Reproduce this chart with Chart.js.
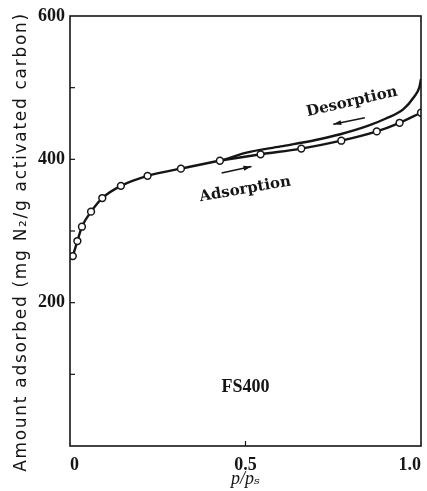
<!DOCTYPE html>
<html>
<head>
<meta charset="utf-8">
<script src="https://cdn.jsdelivr.net/npm/chart.js@4/dist/chart.umd.min.js"></script>
<style>
  html, body { margin: 0; padding: 0; background: #fff; }
  #wrap { width: 427px; height: 491px; position: relative; }
</style>
</head>
<body>
<div id="wrap"><canvas id="isotherm"></canvas></div>
<script>
// adsorption branch (open circles)
const adsPressure = [0.008, 0.021, 0.034, 0.06, 0.092, 0.145, 0.221, 0.316, 0.427, 0.543, 0.659, 0.773, 0.874, 0.939, 1.0];
const adsAmount = [265, 286, 306, 327, 346, 363, 377, 387, 398, 407, 415, 426, 439, 451, 465];

// desorption branch (plain line)
const desPressure = [0.43, 0.5, 0.6, 0.7, 0.77, 0.85, 0.9, 0.95, 0.98, 0.995, 1.0];
const desAmount = [398, 409, 418, 427, 435, 447, 457, 470, 487, 500, 512];

const xTickValues = [0, 0.5, 1.0];
const xTickLabels = ['0', '0.5', '1.0'];
const yLabelValues = [200, 400, 600];

const yTitle = 'Amount adsorbed (mg N\u2082/g activated carbon)';
const sampleName = 'FS400';

const ink = '#151515';
const serif = '"Liberation Serif", "DejaVu Serif", serif';

function toPoints(xs, ys) {
    return xs.map((x, i) => ({x: x, y: ys[i]}));
}

function arrow(ctx, x1, y1, x2, y2) {
    // line from (x1,y1) with head at (x2,y2)
    const a = Math.atan2(y2 - y1, x2 - x1);
    ctx.beginPath();
    ctx.moveTo(x1, y1);
    ctx.lineTo(x2, y2);
    ctx.stroke();
    ctx.beginPath();
    ctx.moveTo(x2, y2);
    ctx.lineTo(x2 - 8 * Math.cos(a) + 2.5 * Math.sin(a), y2 - 8 * Math.sin(a) - 2.5 * Math.cos(a));
    ctx.lineTo(x2 - 8 * Math.cos(a) - 2.5 * Math.sin(a), y2 - 8 * Math.sin(a) + 2.5 * Math.cos(a));
    ctx.closePath();
    ctx.fill();
}

function tiltedText(ctx, text, x, y, deg) {
    ctx.save();
    ctx.translate(x, y);
    ctx.rotate(deg * Math.PI / 180);
    ctx.fillText(text, 0, 0);
    ctx.restore();
}

const frameAndNotes = {
    id: 'frameAndNotes',
    afterDraw(chart) {
        const ctx = chart.ctx;
        const area = chart.chartArea;
        const xs = chart.scales.x;
        const ys = chart.scales.y;
        ctx.save();
        ctx.strokeStyle = ink;
        ctx.fillStyle = ink;

        // box round the plot
        ctx.lineWidth = 1.6;
        ctx.strokeRect(area.left, area.top, area.right - area.left, area.bottom - area.top);

        // inner ticks
        ctx.lineWidth = 1.2;
        ys.ticks.forEach(t => {
            const py = ys.getPixelForValue(t.value);
            if (t.value <= 0 || t.value >= 600) return;
            ctx.beginPath();
            ctx.moveTo(area.left, py);
            ctx.lineTo(area.left + 5, py);
            ctx.stroke();
        });
        const px = xs.getPixelForValue(0.5);
        ctx.beginPath();
        ctx.moveTo(px, area.bottom);
        ctx.lineTo(px, area.bottom - 5);
        ctx.stroke();

        // axis titles
        ctx.textAlign = 'center';
        ctx.textBaseline = 'middle';
        ctx.save();
        ctx.font = '17px "DejaVu Sans", sans-serif';
        ctx.letterSpacing = '1.7px';
        ctx.translate(22, (area.top + area.bottom) / 2 + 11);
        ctx.rotate(-Math.PI / 2);
        ctx.fillText(yTitle, 0, 0);
        ctx.restore();

        ctx.font = 'italic 18px ' + serif;
        ctx.fillText('p/p\u209b', xs.getPixelForValue(0.5), 479);

        // branch labels and arrows
        ctx.font = 'bold 15px "DejaVu Serif", serif';
        tiltedText(ctx, 'Desorption', xs.getPixelForValue(0.803), ys.getPixelForValue(480), -13);
        tiltedText(ctx, 'Adsorption', xs.getPixelForValue(0.499), ys.getPixelForValue(358), -10);

        ctx.lineWidth = 1.4;
        arrow(ctx, xs.getPixelForValue(0.84), ys.getPixelForValue(458),
                   xs.getPixelForValue(0.75), ys.getPixelForValue(449));
        arrow(ctx, xs.getPixelForValue(0.432), ys.getPixelForValue(381),
                   xs.getPixelForValue(0.517), ys.getPixelForValue(390));

        ctx.font = 'bold 18px ' + serif;
        ctx.fillText(sampleName, xs.getPixelForValue(0.5), ys.getPixelForValue(82));
        ctx.restore();
    }
};

new Chart(document.getElementById('isotherm'), {
    type: 'line',
    data: {
        datasets: [
            {
                label: 'Adsorption',
                data: toPoints(adsPressure, adsAmount),
                borderColor: ink,
                borderWidth: 2.4,
                cubicInterpolationMode: 'monotone',
                pointRadius: 3.4,
                pointBorderWidth: 1.5,
                pointBorderColor: ink,
                pointBackgroundColor: '#fff'
            },
            {
                label: 'Desorption',
                data: toPoints(desPressure, desAmount),
                borderColor: ink,
                borderWidth: 2.4,
                cubicInterpolationMode: 'monotone',
                pointRadius: 0
            }
        ]
    },
    options: {
        animation: false,
        responsive: true,
        maintainAspectRatio: false,
        layout: {
            padding: {top: 16, right: 6, left: 0, bottom: 0}
        },
        plugins: {
            legend: {display: false},
            tooltip: {enabled: false}
        },
        scales: {
            x: {
                type: 'linear',
                min: 0,
                max: 1,
                afterBuildTicks: function(scale) {
                    scale.ticks = xTickValues.map(v => ({value: v}));
                },
                afterFit: function(scale) {
                    scale.height = 45;
                    scale.paddingLeft = 0;
                    scale.paddingRight = 0;
                },
                ticks: {
                    maxRotation: 0,
                    align: 'inner',
                    padding: 9,
                    color: ink,
                    font: {family: serif, size: 18, weight: 'bold'},
                    callback: function(value) {
                        const i = xTickValues.indexOf(value);
                        return i >= 0 ? xTickLabels[i] : '';
                    }
                },
                grid: {display: false, drawTicks: false},
                border: {display: false}
            },
            y: {
                min: 0,
                max: 600,
                afterFit: function(scale) {
                    scale.width = 70;
                    scale.paddingTop = 0;
                    scale.paddingBottom = 0;
                },
                ticks: {
                    stepSize: 100,
                    padding: 5,
                    color: ink,
                    font: {family: serif, size: 18, weight: 'bold'},
                    callback: function(value) {
                        return yLabelValues.includes(value) ? value : '';
                    }
                },
                grid: {display: false, drawTicks: false},
                border: {display: false}
            }
        }
    },
    plugins: [frameAndNotes]
});
</script>
</body>
</html>
